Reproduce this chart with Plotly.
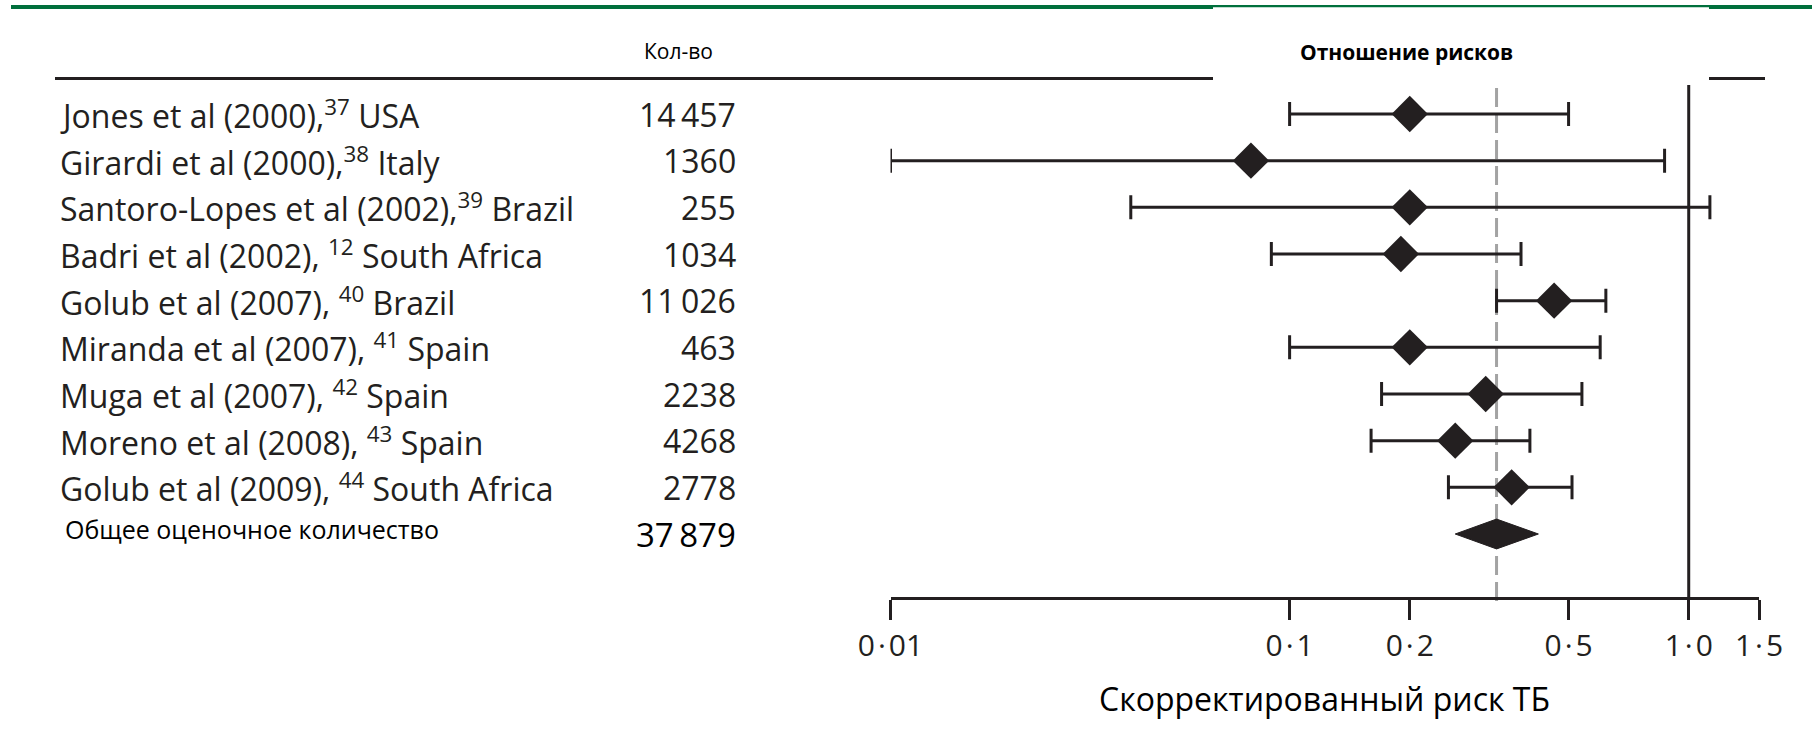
import math
import plotly.graph_objects as go

# ---------------- data ----------------
authors = ["Jones et al (2000),", "Girardi et al (2000),", "Santoro-Lopes et al (2002),",
           "Badri et al (2002), ", "Golub et al (2007), ", "Miranda et al (2007), ",
           "Muga et al (2007), ", "Moreno et al (2008), ", "Golub et al (2009), "]
refs = ["37", "38", "39", "12", "40", "41", "42", "43", "44"]
countries = ["USA", "Italy", "Brazil", "South Africa", "Brazil", "Spain", "Spain", "Spain", "South Africa"]
n_values = [14457, 1360, 255, 1034, 11026, 463, 2238, 4268, 2778]
rr_est = [0.20, 0.08, 0.20, 0.19, 0.46, 0.20, 0.31, 0.26, 0.36]
rr_low = [0.10, 0.01, 0.04, 0.09, 0.33, 0.10, 0.17, 0.16, 0.25]
rr_high = [0.50, 0.87, 1.13, 0.38, 0.62, 0.60, 0.54, 0.40, 0.51]

pooled_label = "Общее оценочное количество"
pooled_n = 37879
pooled_est = 0.33
pooled_low = 0.26
pooled_high = 0.42

tick_vals = [0.01, 0.1, 0.2, 0.5, 1.0, 1.5]
tick_text = ["0\u200a·\u200a01", "0\u200a·\u200a1", "0\u200a·\u200a2", "0\u200a·\u200a5", "1\u200a·\u200a0", "1\u200a·\u200a5"]

header_n = "Кол-во"
header_rr = "Отношение рисков"
x_title = "Скорректированный риск ТБ"

# ---------------- styling ----------------
W, H = 1812, 743
INK = "#231f20"
GREEN = "#006f3c"
LANCET_FONT = "Open Sans"
PLAIN_FONT = "Open Sans"
ROW_FONT = 32
POOLED_HALF_H = 0.32   # half height of pooled diamond in row units


def px(x):
    return x / W


def py(y):
    return 1 - y / H


def fmt_n(n):
    if n >= 10000:
        return f"{n:,}".replace(",", "\u2009")
    return str(n)


rows = list(range(len(authors)))
pooled_row = len(authors)

fig = go.Figure()

# study estimates with CI whiskers
fig.add_trace(go.Scatter(
    x=rr_est, y=rows, mode="markers",
    marker=dict(symbol="diamond", size=28, color=INK, line=dict(width=0)),
    error_x=dict(type="data", symmetric=False,
                 array=[h - e for h, e in zip(rr_high, rr_est)],
                 arrayminus=[e - l for e, l in zip(rr_est, rr_low)],
                 width=12, thickness=3, color=INK),
    hoverinfo="skip", cliponaxis=False,
))

# pooled diamond
fig.add_trace(go.Scatter(
    x=[pooled_low, pooled_est, pooled_high, pooled_est, pooled_low],
    y=[pooled_row, pooled_row - POOLED_HALF_H, pooled_row, pooled_row + POOLED_HALF_H, pooled_row],
    mode="lines", fill="toself", fillcolor=INK, line=dict(color=INK, width=1),
    hoverinfo="skip",
))

shapes = []
# green top rule
shapes.append(dict(type="rect", xref="paper", yref="paper",
                   x0=px(11), x1=px(W), y0=py(9), y1=py(5),
                   fillcolor=GREEN, line=dict(width=0)))
shapes.append(dict(type="rect", xref="paper", yref="paper",
                   x0=px(1213), x1=px(1709), y0=py(12), y1=py(7.3),
                   fillcolor="white", line=dict(width=0)))
# black header rule (two segments)
for x0, x1 in [(55, 1213), (1709, 1765)]:
    shapes.append(dict(type="line", xref="paper", yref="paper",
                       x0=px(x0), x1=px(x1), y0=py(78.5), y1=py(78.5),
                       line=dict(color=INK, width=3)))
# line of no effect
shapes.append(dict(type="line", xref="x", yref="y domain", x0=1.0, x1=1.0, y0=0, y1=1,
                   line=dict(color=INK, width=3), layer="below"))
# pooled estimate dashed line
shapes.append(dict(type="line", xref="x", yref="y domain", x0=pooled_est, x1=pooled_est,
                   y0=-0.008, y1=1, line=dict(color="#a3a3a3", width=3, dash="19px,7px"),
                   layer="below"))

annotations = []
for i, (a, r, c, n) in enumerate(zip(authors, refs, countries, n_values)):
    annotations.append(dict(xref="paper", yref="y", x=px(58), y=i, xanchor="left", yanchor="middle",
                            text=f"{a}<sup>{r}</sup> {c}", showarrow=False,
                            font=dict(family=LANCET_FONT, size=ROW_FONT, color=INK)))
    annotations.append(dict(xref="paper", yref="y", x=px(738), y=i, xanchor="right", yanchor="middle",
                            text=fmt_n(n), showarrow=False,
                            font=dict(family=LANCET_FONT, size=ROW_FONT, color=INK)))
annotations.append(dict(xref="paper", yref="y", x=px(63), y=pooled_row - 0.1, xanchor="left", yanchor="middle",
                        text=pooled_label, showarrow=False,
                        font=dict(family=PLAIN_FONT, size=25, color="black")))
annotations.append(dict(xref="paper", yref="y", x=px(738), y=pooled_row, xanchor="right", yanchor="middle",
                        text=fmt_n(pooled_n), showarrow=False,
                        font=dict(family=LANCET_FONT, size=ROW_FONT + 1, color="black")))
annotations.append(dict(xref="paper", yref="paper", x=px(678), y=py(51), xanchor="center", yanchor="middle",
                        text=header_n, showarrow=False,
                        font=dict(family=PLAIN_FONT, size=21, color="black")))
annotations.append(dict(xref="paper", yref="paper", x=px(1406), y=py(52), xanchor="center", yanchor="middle",
                        text=f"<b>{header_rr}</b>", showarrow=False,
                        font=dict(family=PLAIN_FONT, size=21, color="black")))
annotations.append(dict(xref="paper", yref="paper", x=px(1324), y=py(698), xanchor="center", yanchor="middle",
                        text=x_title, showarrow=False,
                        font=dict(family=PLAIN_FONT, size=32, color="black")))

# y mapping: row 0 at 114px, row 9 at 534px, domain 85..597px
dom_top, dom_bot = 85, 597
r0_px, r9_px = 114, 534
per_row = (r9_px - r0_px) / pooled_row
y_top = -(r0_px - dom_top) / per_row
y_bot = y_top + (dom_bot - dom_top) / per_row

fig.update_layout(
    template="none",
    width=W, height=H, autosize=False,
    margin=dict(l=0, r=0, t=0, b=0, pad=0, autoexpand=False),
    paper_bgcolor="white", plot_bgcolor="white",
    showlegend=False,
    shapes=shapes, annotations=annotations,
    xaxis=dict(type="log", range=[math.log10(tick_vals[0]), math.log10(tick_vals[-1])],
               domain=[px(890.5), px(1759)], automargin=False,
               showline=True, linecolor=INK, linewidth=3,
               ticks="outside", ticklen=20, tickwidth=3, tickcolor=INK,
               tickvals=tick_vals, ticktext=tick_text,
               tickfont=dict(family=LANCET_FONT, size=30, color=INK),
               ticklabelstandoff=0,
               showgrid=False, zeroline=False, fixedrange=True),
    yaxis=dict(domain=[1 - dom_bot / H, 1 - dom_top / H], range=[y_bot, y_top],
               visible=False, automargin=False, showgrid=False, zeroline=False, fixedrange=True),
)

fig.write_html("out.html",
               config={"displayModeBar": False, "staticPlot": True},
               post_script="document.body.style.margin='0px';document.body.style.overflow='hidden';")
